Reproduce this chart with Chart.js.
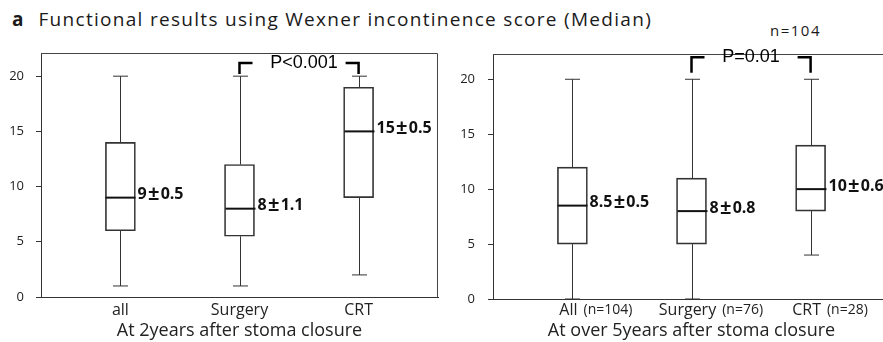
<!DOCTYPE html>
<html>
<head>
<meta charset="utf-8">
<script src="https://cdn.jsdelivr.net/npm/chart.js@4"></script>
<style>
  html, body { margin: 0; padding: 0; background: #fff; }
  body { width: 883px; height: 342px; position: relative; overflow: hidden; }
  #title { position: absolute; left: 12px; top: 10px; font: 19px "Open Sans"; line-height: 19px; color: #1a1a1a; white-space: nowrap; }
  #title b { margin-right: 15px; }
  #title span { letter-spacing: 1.3px; }
  #nall { position: absolute; left: 770px; top: 23px; font: 15px "Open Sans"; line-height: 15px; letter-spacing: 1.5px; color: #1a1a1a; }
  .panel { position: absolute; top: 40px; height: 302px; }
</style>
</head>
<body>
<div id="title"><b>a</b><span>Functional results using Wexner incontinence score (Median)</span></div>
<div id="nall">n=104</div>
<div class="panel" style="left:0;width:445px"><canvas id="two-years"></canvas></div>
<div class="panel" style="left:445px;width:452px"><canvas id="five-years"></canvas></div>

<script>
// box positions on the x axis
const positions = [1, 2, 3];
const yTicks = [0, 5, 10, 15, 20];

// At 2 years
const groups2y = ['all', 'Surgery', 'CRT'];
const min2y = [1, 1, 2];
const q1_2y = [6, 5.5, 9];
const med2y = [9, 8, 15];
const q3_2y = [14, 12, 19];
const max2y = [20, 20, 20];
const text2y = ['9±0.5', '8±1.1', '15±0.5'];

// At over 5 years
const groups5y = ['All', 'Surgery', 'CRT'];
const counts5y = ['(n=104)', '(n=76)', '(n=28)'];
const min5y = [0, 0, 4];
const q1_5y = [5, 5, 8];
const med5y = [8.5, 8, 10];
const q3_5y = [12, 11, 14];
const max5y = [20, 20, 20];
const text5y = ['8.5±0.5', '8±0.8', '10±0.6'];

// p value brackets between Surgery and CRT
const pText = ['P<0.001', 'P=0.01'];
const pTop = [21.2, 22.0];
const pBottom = [20.2, 20.6];

const ink = '#222';
const font = 'Open Sans';

// "9±0.5" with a wide plus-minus sign, as in the source figure
function drawMedianText(c, s, x, y) {
    const parts = s.split('±');
    c.font = 'bold 16px "' + font + '"';
    c.textAlign = 'left';
    c.fillText(parts[0], x, y);
    x += c.measureText(parts[0]).width;
    c.font = 'bold 20px "' + font + '"';
    c.textAlign = 'center';
    c.fillText('±', x + 7, y);
    c.font = 'bold 16px "' + font + '"';
    c.textAlign = 'left';
    c.fillText(parts[1], x + 14, y);
}

function boxPlugin(d) {
    return {
        id: 'boxes',
        afterDraw(chart) {
            const c = chart.ctx;
            const xs = chart.scales.x;
            const ys = chart.scales.y;
            const a = chart.chartArea;
            c.save();
            // top / right frame
            c.strokeStyle = '#444';
            c.lineWidth = 1;
            c.beginPath();
            c.moveTo(a.left, a.top + 0.5);
            c.lineTo(a.right - 0.5, a.top + 0.5);
            c.lineTo(a.right - 0.5, a.bottom);
            c.stroke();

            for (let i = 0; i < positions.length; i++) {
                const x = Math.round(xs.getPixelForValue(positions[i])) + 0.5;
                const half = 15;
                c.strokeStyle = '#333';
                c.lineWidth = 1;
                c.beginPath();
                c.moveTo(x, ys.getPixelForValue(d.q3[i]));
                c.lineTo(x, ys.getPixelForValue(d.max[i]));
                c.moveTo(x - half / 2, ys.getPixelForValue(d.max[i]));
                c.lineTo(x + half / 2, ys.getPixelForValue(d.max[i]));
                c.moveTo(x, ys.getPixelForValue(d.q1[i]));
                c.lineTo(x, ys.getPixelForValue(d.min[i]));
                c.moveTo(x - half / 2, ys.getPixelForValue(d.min[i]));
                c.lineTo(x + half / 2, ys.getPixelForValue(d.min[i]));
                c.stroke();

                const ym = ys.getPixelForValue(d.med[i]);
                c.strokeStyle = '#111';
                c.lineWidth = 2;
                c.beginPath();
                c.moveTo(x - half, ym);
                c.lineTo(x + half, ym);
                c.stroke();

                c.fillStyle = '#111';
                c.textBaseline = 'middle';
                drawMedianText(c, d.text[i], x + half + 2, ym - 3);
            }

            // p value bracket
            const xa = xs.getPixelForValue(positions[1]);
            const xb = xs.getPixelForValue(positions[2]);
            const yt = ys.getPixelForValue(d.pTop);
            const yb = ys.getPixelForValue(d.pBottom);
            c.strokeStyle = '#000';
            c.lineWidth = 2.5;
            c.beginPath();
            c.moveTo(xa, yb);
            c.lineTo(xa, yt);
            c.lineTo(xa + 13, yt);
            c.moveTo(xb - 13, yt);
            c.lineTo(xb, yt);
            c.lineTo(xb, yb);
            c.stroke();
            c.fillStyle = '#000';
            c.font = '18px "Liberation Sans"';
            c.textAlign = 'center';
            c.textBaseline = 'middle';
            c.fillText(d.p, (xa + xb) / 2 + d.pShift, yt);

            // x labels with group size in smaller type
            if (d.counts) {
                const ly = xs.bottom - 32;
                for (let i = 0; i < positions.length; i++) {
                    const x = xs.getPixelForValue(positions[i]);
                    c.font = '16px "' + font + '"';
                    const w = c.measureText(d.names[i]).width;
                    c.fillStyle = ink;
                    c.textAlign = 'left';
                    c.fillText(d.names[i], x - w / 2 - 4, ly);
                    c.font = '14px "' + font + '"';
                    c.fillText(d.counts[i], x + w / 2 + 2, ly);
                }
            }
            c.restore();
        }
    };
}

function makeChart(id, d) {
    return new Chart(document.getElementById(id), {
        type: 'bar',
        data: {
            datasets: [{
                data: positions.map((p, i) => ({ x: p, y: [d.q1[i], d.q3[i]] })),
                backgroundColor: 'rgba(255,255,255,0)',
                borderColor: '#333',
                borderWidth: 1,
                borderSkipped: false,
                barThickness: 30
            }]
        },
        options: {
            responsive: true,
            maintainAspectRatio: false,
            animation: false,
            layout: { padding: { top: d.padTop, right: 7, left: 0, bottom: 0 } },
            plugins: { legend: { display: false }, tooltip: { enabled: false } },
            scales: {
                x: {
                    type: 'linear',
                    offset: false,
                    min: 1 / 3,
                    max: 11 / 3,
                    afterBuildTicks: s => { s.ticks = positions.map(v => ({ value: v })); },
                    afterFit: s => { s.height = d.xHeight; s.paddingLeft = 0; s.paddingRight = 0; },
                    grid: { display: true, drawOnChartArea: false, drawTicks: false, offset: false },
                    border: { display: true, color: '#333', width: 1 },
                    ticks: {
                        display: !d.counts,
                        padding: 4,
                        color: ink,
                        font: { family: font, size: 16 },
                        callback: v => d.names[v - 1]
                    },
                    title: {
                        display: true,
                        text: d.title,
                        color: ink,
                        font: { family: font, size: 18 },
                        padding: { top: 0, bottom: 0 }
                    }
                },
                y: {
                    min: 0,
                    max: d.yMax,
                    afterBuildTicks: s => { s.ticks = yTicks.map(v => ({ value: v })); },
                    afterFit: s => { s.width = d.yWidth; s.paddingTop = 0; s.paddingBottom = 0; },
                    grid: { drawOnChartArea: false, drawTicks: true, tickLength: 5, color: '#333' },
                    border: { display: true, color: '#333', width: 1 },
                    ticks: {
                        padding: d.tickPad,
                        color: ink,
                        font: { family: font, size: 13 }
                    }
                }
            }
        },
        plugins: [boxPlugin(d)]
    });
}

makeChart('two-years', {
    names: groups2y, min: min2y, q1: q1_2y, med: med2y, q3: q3_2y, max: max2y, text: text2y,
    p: pText[0], pTop: pTop[0], pBottom: pBottom[0], pShift: 5,
    title: 'At 2years after stoma closure',
    yMax: 22.1, padTop: 13, xHeight: 45, yWidth: 41, tickPad: 12
});

makeChart('five-years', {
    names: groups5y, counts: counts5y, min: min5y, q1: q1_5y, med: med5y, q3: q3_5y, max: max5y, text: text5y,
    p: pText[1], pTop: pTop[1], pBottom: pBottom[1], pShift: 0,
    title: 'At over 5years after stoma closure',
    yMax: 22.3, padTop: 14, xHeight: 43, yWidth: 48, tickPad: 13
});
</script>
</body>
</html>
